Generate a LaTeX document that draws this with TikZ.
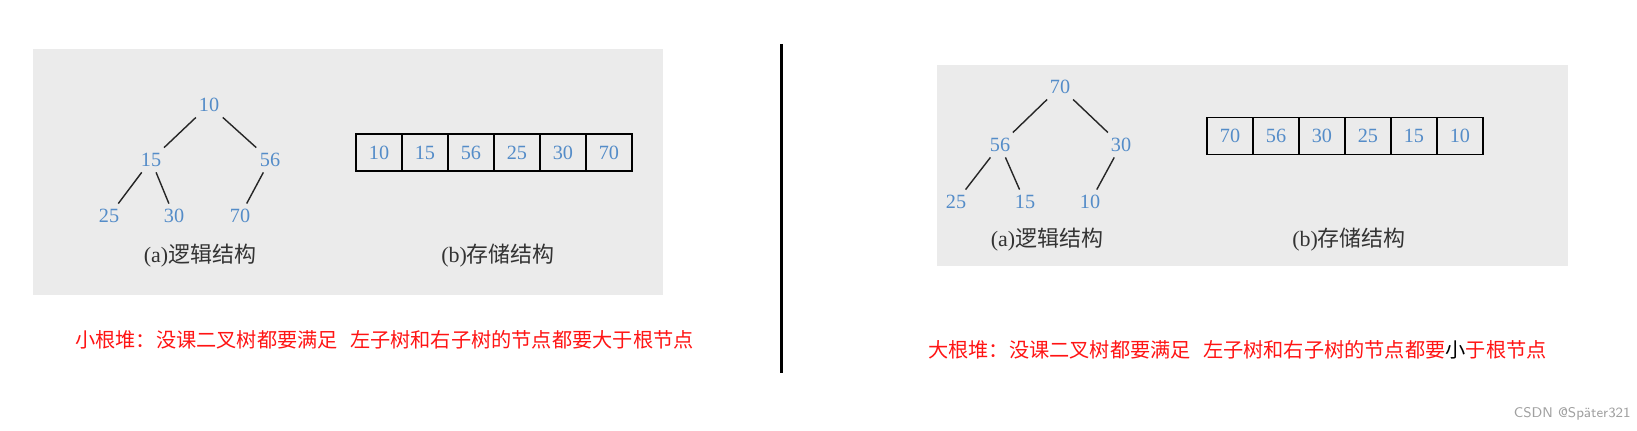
\documentclass[tikz,border=0pt]{standalone}
\usepackage{fontspec}
\setmainfont{Liberation Serif}
\newfontfamily\cjk{Noto Sans CJK SC}
\usepackage{xcolor}
\definecolor{hpgray}{RGB}{235, 235, 235}
\definecolor{hpblue}{RGB}{84, 140, 200}
\definecolor{hpred}{RGB}{255, 20, 20}
\definecolor{hpmark}{RGB}{160, 160, 160}
\usepackage{tikz}
\usetikzlibrary{positioning}

\tikzset{
  keynum/.style={font=\fontsize{11.5}{12}\selectfont, text=hpblue, inner sep=3pt},
  treeline/.style={line width=0.8pt, black!85},
  cell/.style={draw, line width=1pt, outer sep=0pt, inner sep=0pt,
    minimum width=0.92cm, minimum height=0.74cm,
    font=\fontsize{11.5}{12}\selectfont, text=hpblue},
  capt/.style={font=\fontsize{12.5}{13}\selectfont, text=black!80},
  note/.style={font=\cjk\fontsize{11.5}{12}\selectfont, text=hpred, anchor=west, inner sep=0pt},
}

\begin{document}
\begin{tikzpicture}[x=0.02cm, y=-0.02cm]
      \useasboundingbox (0,0) rectangle (1637,431);
      % Min heap panel
      \fill[hpgray] (33,49) rectangle (663,295);
      \node[keynum] (mr) at (209,105) {10};
      \node[keynum] (ma) at (151,160) {15};
      \node[keynum] (mb) at (270,160) {56};
      \node[keynum] (mc) at (109,216) {25};
      \node[keynum] (md) at (174,216) {30};
      \node[keynum] (me) at (240,216) {70};
      \draw[treeline] (mr) -- (ma);
      \draw[treeline] (mr) -- (mb);
      \draw[treeline] (ma) -- (mc);
      \draw[treeline] (ma) -- (md);
      \draw[treeline] (mb) -- (me);
      % Min heap array
      \node[cell] (m1) at (379,152.5) {10};
      \node[cell, right=0pt of m1] (m2) {15};
      \node[cell, right=0pt of m2] (m3) {56};
      \node[cell, right=0pt of m3] (m4) {25};
      \node[cell, right=0pt of m4] (m5) {30};
      \node[cell, right=0pt of m5] (m6) {70};
      \node[capt] (mcapa) at (200,256) {(a)\cjk 逻辑结构};
      \node[capt] (mcapb) at (498,256) {(b)\cjk 存储结构};
      % Divider
      \draw[line width=1.7pt] (781,44) -- (781,373);
      % Max heap panel
      \fill[hpgray] (937,65) rectangle (1568,266);
      \node[keynum] (xr) at (1060,87) {70};
      \node[keynum] (xa) at (1000,145) {56};
      \node[keynum] (xb) at (1121,145) {30};
      \node[keynum] (xc) at (956,202) {25};
      \node[keynum] (xd) at (1025,202) {15};
      \node[keynum] (xe) at (1090,202) {10};
      \draw[treeline] (xr) -- (xa);
      \draw[treeline] (xr) -- (xb);
      \draw[treeline] (xa) -- (xc);
      \draw[treeline] (xa) -- (xd);
      \draw[treeline] (xb) -- (xe);
      % Max heap array
      \node[cell] (x1) at (1230,136) {70};
      \node[cell, right=0pt of x1] (x2) {56};
      \node[cell, right=0pt of x2] (x3) {30};
      \node[cell, right=0pt of x3] (x4) {25};
      \node[cell, right=0pt of x4] (x5) {15};
      \node[cell, right=0pt of x5] (x6) {10};
      \node[capt] (xcapa) at (1047,240) {(a)\cjk 逻辑结构};
      \node[capt] (xcapb) at (1349,240) {(b)\cjk 存储结构};
      % Notes
      \node[note] (mnote) at (75,340) {小根堆：没课二叉树都要满足\hspace{0.6em}左子树和右子树的节点都要大于根节点};
      \node[note] (xnote) at (928,350) {大根堆：没课二叉树都要满足\hspace{0.6em}左子树和右子树的节点都要\textcolor{black}{小}于根节点};
      \node[font=\fontsize{8}{9}\selectfont\sffamily, text=hpmark, anchor=east, inner sep=0pt] (mark) at (1631,414) {CSDN @Später321};
    \end{tikzpicture}
\end{document}
